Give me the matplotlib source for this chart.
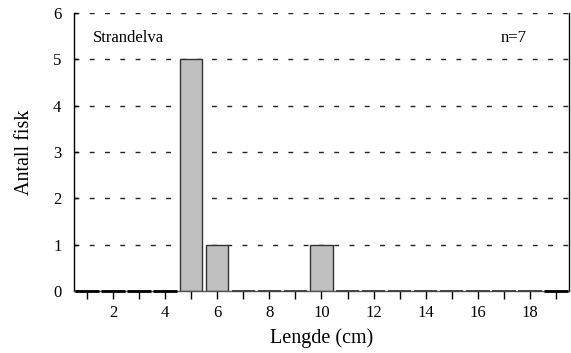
import matplotlib
matplotlib.use("Agg")
import matplotlib.pyplot as plt

lengths = list(range(1, 20))
counts = [0, 0, 0, 0, 5, 1, 0, 0, 0, 1, 0, 0, 0, 0, 0, 0, 0, 0, 0]
yticks = [0, 1, 2, 3, 4, 5, 6]
xtick_labels = [2, 4, 6, 8, 10, 12, 14, 16, 18]
site = "Strandelva"
n_label = "n=7"

plt.rcParams['font.family'] = ['Liberation Serif', 'DejaVu Serif']

fig = plt.figure(figsize=(5.71, 3.53), dpi=100)
ax = fig.add_axes([74/571, 1-291/353, (569-74)/571, (291-13)/353])

for y in [1, 2, 3, 4, 5, 6]:
    ax.axhline(y, color='#222222', lw=1.0, ls=(0, (3.5, 7.5)), zorder=1)

ax.bar(lengths, counts, width=0.86, color='#c0c0c0', edgecolor='#333333', linewidth=1.0, zorder=2)
# zero-height bars show as short outlines on the baseline
for x, c in zip(lengths, counts):
    if c == 0:
        dark = x <= 4 or x == 19
        ax.plot([x-0.45, x+0.45], [0, 0], color='black' if dark else '#444444',
                lw=2.0 if dark else 1.4, solid_capstyle='butt', zorder=3, clip_on=False)

ax.set_xlim(0.5, 19.5)
ax.set_ylim(0, 6)
ax.set_yticks(yticks)
ax.set_xticks(lengths, minor=True)
ax.set_xticks(xtick_labels)
ax.set_xticklabels([str(v) for v in xtick_labels])
ax.tick_params(axis='y', direction='in', length=3, width=1, pad=9, labelsize=12)
ax.tick_params(axis='x', which='both', direction='out', length=6, width=1, pad=4, labelsize=12)

for s in ['left', 'right', 'bottom']:
    ax.spines[s].set_linewidth(1.0)
    ax.spines[s].set_color('black')
ax.spines['bottom'].set_color('#555555')
ax.spines['top'].set_visible(False)

ax.set_xlabel("Lengde (cm)", fontsize=14.5, labelpad=5)
ax.set_ylabel("Antall fisk", fontsize=14.5, labelpad=14)

ax.text(0.038, 0.94, site, transform=ax.transAxes, fontsize=12, ha='left', va='top')
ax.text(0.862, 0.94, n_label, transform=ax.transAxes, fontsize=12, ha='left', va='top')

fig.savefig("out.png", dpi=100)
